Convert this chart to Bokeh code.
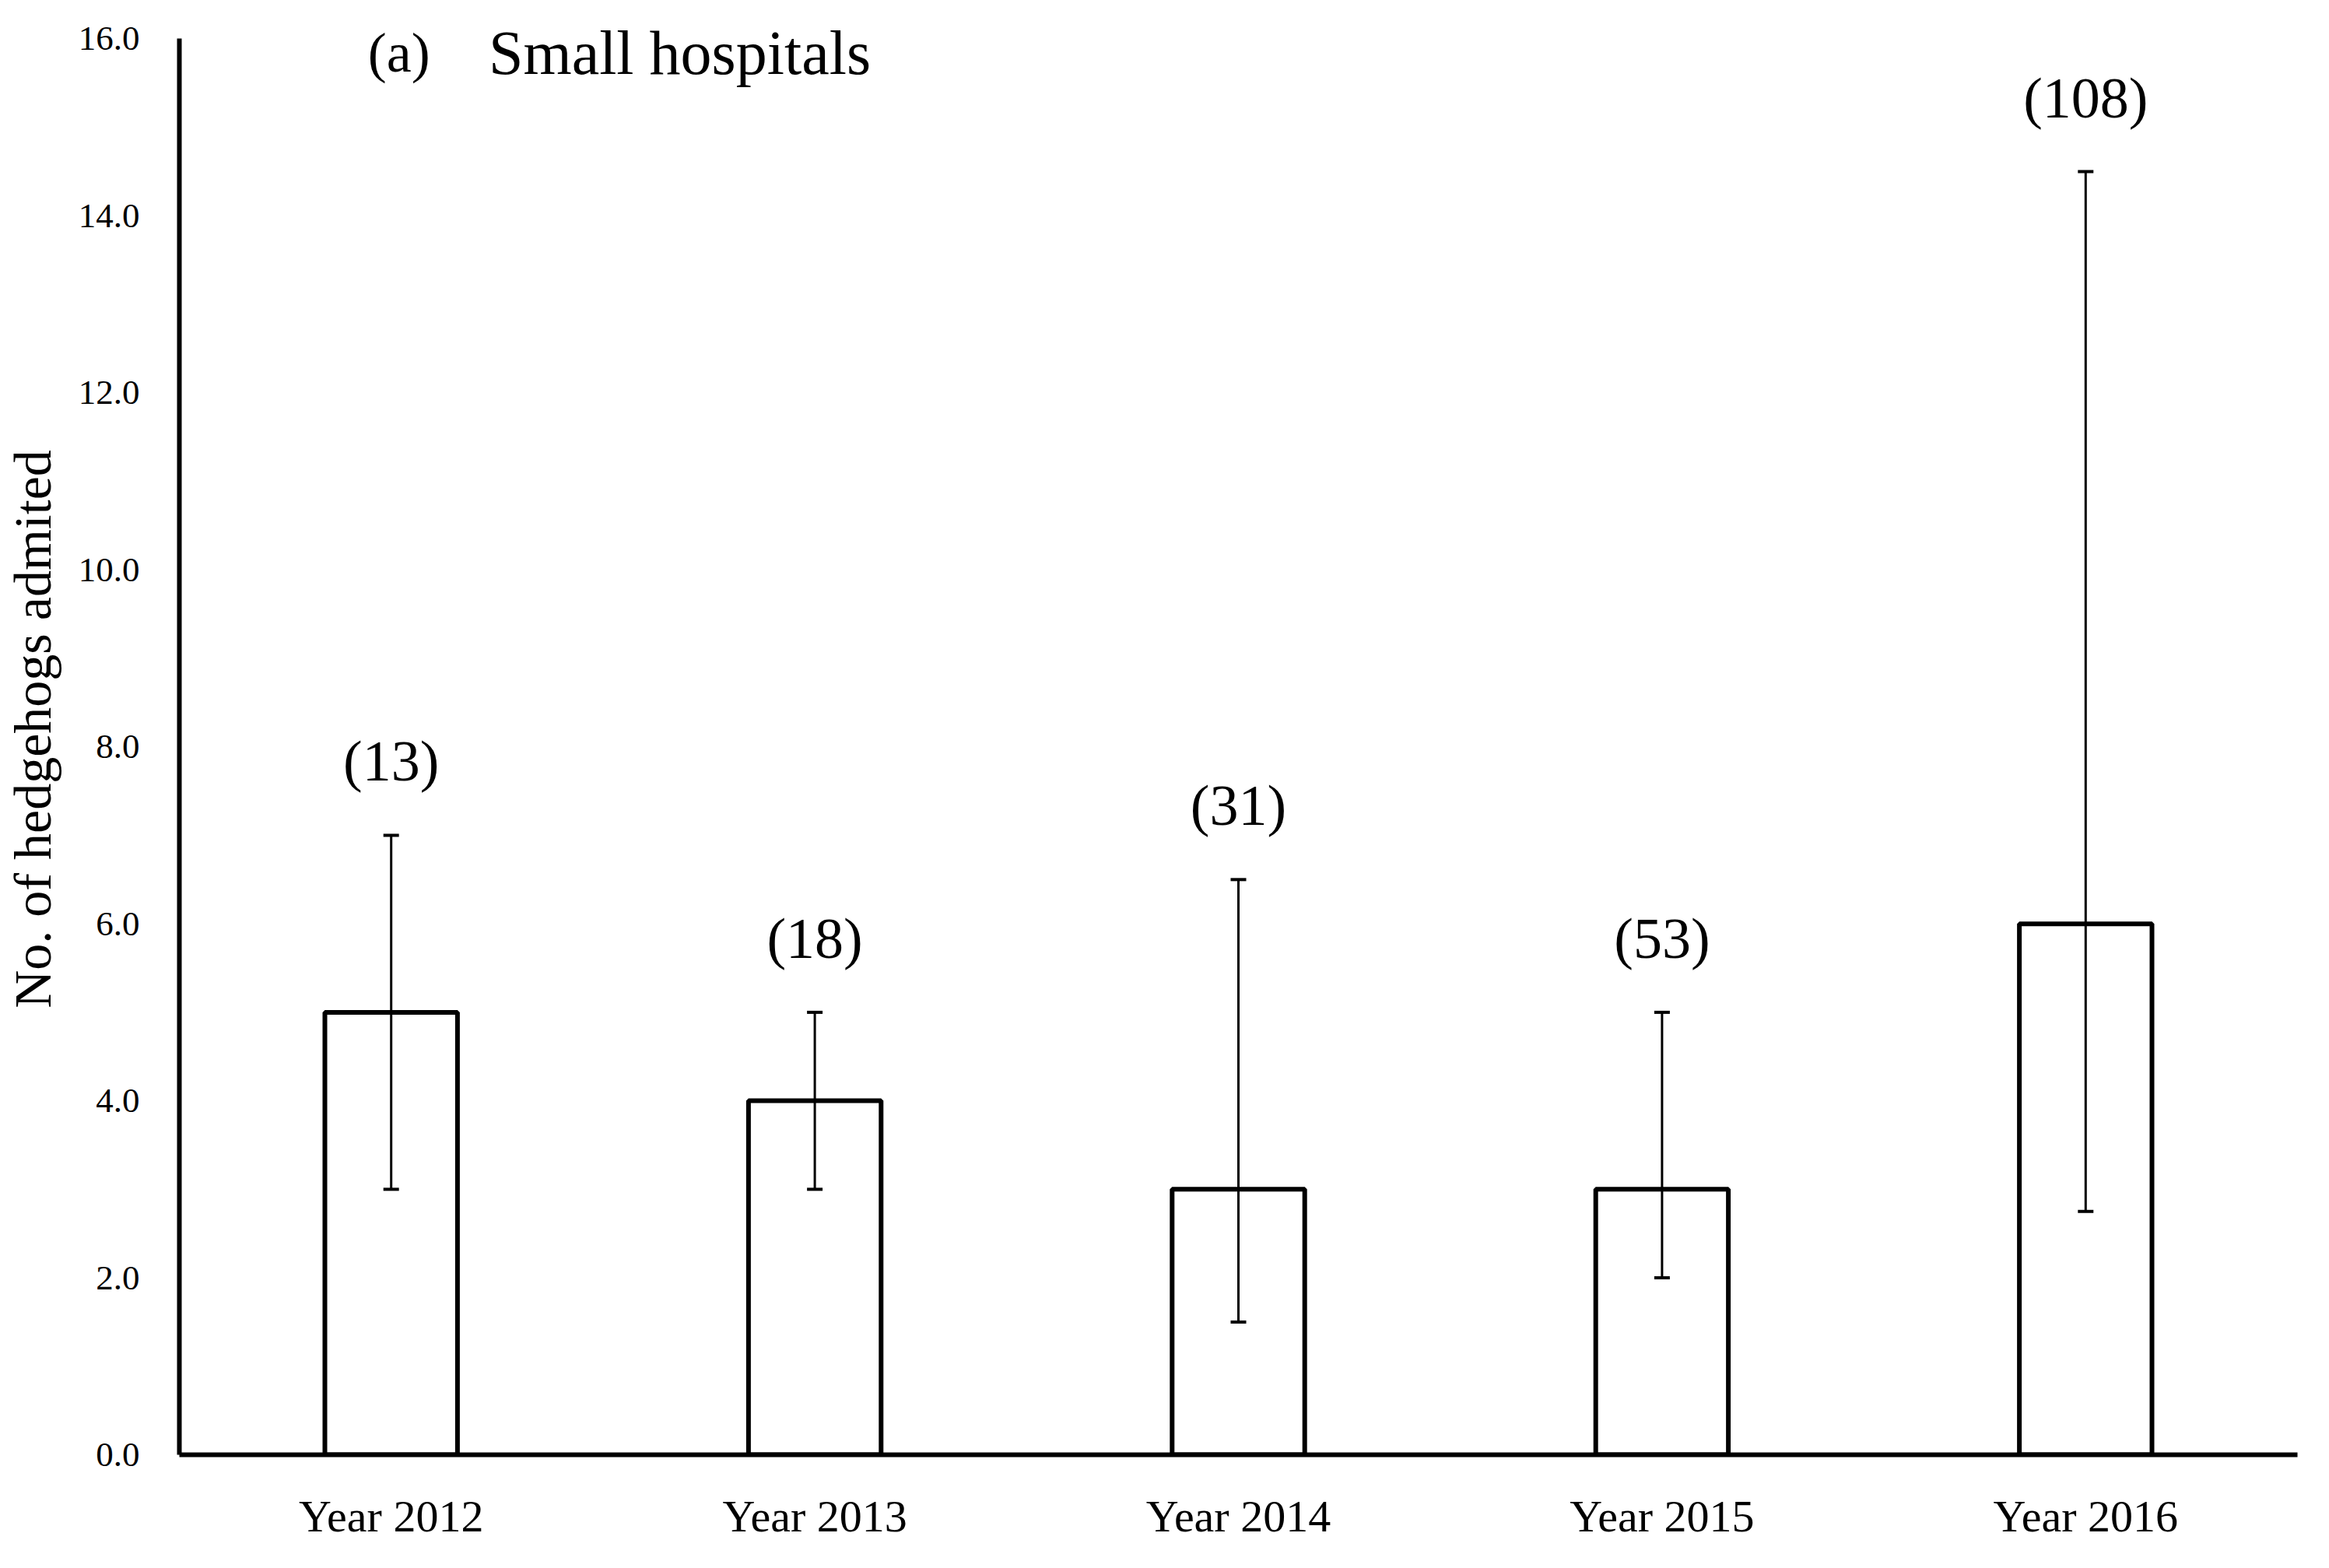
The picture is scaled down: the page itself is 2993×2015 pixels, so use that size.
from bokeh.plotting import figure
from bokeh.models import (ColumnDataSource, FactorRange, Range1d, Whisker, TeeHead,
                          FixedTicker, PrintfTickFormatter, Label)
from bokeh.core.properties import value
from bokeh.embed import file_html
from bokeh.resources import INLINE

# ---- data ----
categories = ["Year 2012", "Year 2013", "Year 2014", "Year 2015", "Year 2016"]
medians = [5.0, 4.0, 3.0, 3.0, 6.0]
upper_vals = [7.0, 5.0, 6.5, 5.0, 14.5]
lower_vals = [3.0, 3.0, 1.5, 2.0, 2.75]
counts = [13, 18, 31, 53, 108]
y_ticks = [0, 2, 4, 6, 8, 10, 12, 14, 16]

FONT = "Liberation Serif"

src = ColumnDataSource(dict(
    cat=categories,
    med=medians,
    upper=upper_vals,
    lower=lower_vals,
    nlab=["(%d)" % c for c in counts],
))

p = figure(width=2975, height=2000,
           x_range=FactorRange(factors=categories, range_padding=0),
           y_range=Range1d(0, 16.4),
           output_backend="svg", toolbar_location=None,
           min_border_left=224, min_border_right=23,
           min_border_top=4, min_border_bottom=131)

p.outline_line_color = None
p.xgrid.grid_line_color = None
p.ygrid.grid_line_color = None
p.background_fill_color = "white"
p.border_fill_color = "white"

p.vbar(x="cat", top="med", width=0.313, bottom=0, source=src,
       fill_color="white", line_color="black", line_width=6)

w = Whisker(base="cat", upper="upper", lower="lower", source=src,
            dimension="height", line_color="black", line_width=3,
            level="overlay",
            upper_head=TeeHead(size=20, line_width=4, line_color="black"),
            lower_head=TeeHead(size=20, line_width=4, line_color="black"))
p.add_layout(w)

p.text(x="cat", y="upper", text="nlab", source=src, y_offset=-95,
       text_align="center", text_baseline="middle",
       text_font=value(FONT), text_font_size="74px", text_color="black")

p.add_layout(Label(x=0.445, y=15.84, text="(a)",
                   text_font=FONT, text_font_size="72px", text_color="black",
                   text_baseline="middle", text_align="left"))
p.add_layout(Label(x=0.73, y=15.84, text="Small hospitals",
                   text_font=FONT, text_font_size="80px", text_color="black",
                   text_baseline="middle", text_align="left"))

# y axis
ya = p.yaxis[0]
ya.bounds = (0, 16)
ya.ticker = FixedTicker(ticks=y_ticks)
ya.formatter = PrintfTickFormatter(format="%.1f")
ya.axis_line_width = 6
ya.axis_line_color = "black"
ya.major_tick_line_color = None
ya.minor_tick_line_color = None
ya.major_label_standoff = 45
ya.major_label_text_font = FONT
ya.major_label_text_font_size = "45px"
ya.major_label_text_color = "black"
ya.axis_label = "No. of hedgehogs admited"
ya.axis_label_text_font = FONT
ya.axis_label_text_font_size = "68px"
ya.axis_label_text_font_style = "normal"
ya.axis_label_text_color = "black"
ya.axis_label_standoff = 18

# x axis
xa = p.xaxis[0]
xa.axis_line_width = 6
xa.axis_line_color = "black"
xa.major_tick_line_color = None
xa.minor_tick_line_color = None
xa.major_label_standoff = 40
xa.major_label_text_font = FONT
xa.major_label_text_font_size = "58px"
xa.major_label_text_color = "black"

open("out.html", "w").write(file_html(p, INLINE))
